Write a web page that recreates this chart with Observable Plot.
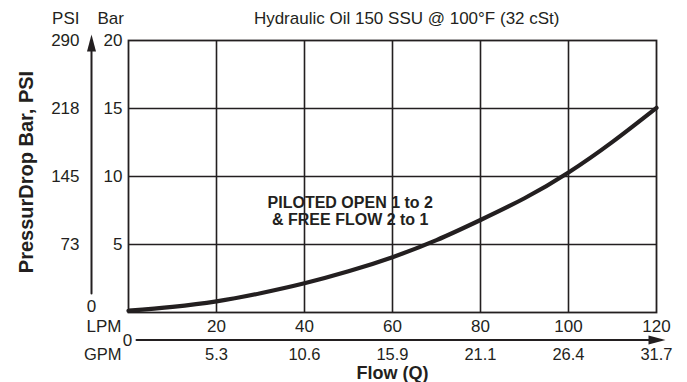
<!DOCTYPE html>
<html>
<head>
<meta charset="utf-8">
<script src="https://cdn.jsdelivr.net/npm/d3@7"></script>
<script src="https://cdn.jsdelivr.net/npm/@observablehq/plot@0.6"></script>
<style>
  html, body { margin: 0; padding: 0; background: #fff; }
  #chart svg { display: block; }
</style>
</head>
<body>
<div id="chart"></div>
<script>
// ---- data ----
const flowLpm = [0, 10, 20, 30, 40, 50, 60, 70, 80, 90, 100, 110, 120];
const dropBar = [0.13, 0.42, 0.82, 1.42, 2.15, 3.03, 4.07, 5.32, 6.8, 8.4, 10.3, 12.55, 15.05];

const lpmTicks = [0, 20, 40, 60, 80, 100, 120];
const gpmLabels = ["0", "5.3", "10.6", "15.9", "21.1", "26.4", "31.7"];
const barTicks = [0, 5, 10, 15, 20];
const psiLabels = ["0", "73", "145", "218", "290"];
const gridX = [20, 40, 60, 80, 100];
const gridY = [5, 10, 15];

const titleText = "Hydraulic Oil 150 SSU @ 100°F (32 cSt)";
const yTitle = "PressurDrop Bar, PSI";
const xTitle = "Flow (Q)";
const noteText = "PILOTED OPEN 1 to 2\n& FREE FLOW 2 to 1";
const noteAt = {lpm: 50.4, bar: 7.46};

// ---- tables built from arrays ----
const curve = flowLpm.map((q, i) => ({q, bar: dropBar[i]}));
const yTable = barTicks.map((b, i) => ({bar: b, psi: psiLabels[i]}));
const xTable = lpmTicks.map((l, i) => ({lpm: l, gpm: gpmLabels[i]}));

const ink = "#231f20";
const arrowUp = {draw(ctx) { ctx.moveTo(0, 0); ctx.lineTo(4.5, 17); ctx.lineTo(-4.5, 17); ctx.closePath(); }};
const arrowRight = {draw(ctx) { ctx.moveTo(0, 0); ctx.lineTo(-17, -4.5); ctx.lineTo(-17, 4.5); ctx.closePath(); }};

const chart = Plot.plot({
  width: 687,
  height: 382,
  marginLeft: 128,
  marginRight: 31,
  marginTop: 40,
  marginBottom: 70,
  x: {domain: [0, 120], axis: null},
  y: {domain: [0, 20], axis: null},
  style: {fontFamily: "'Liberation Sans', Arial, Helvetica, sans-serif", fontSize: "17px", color: ink, background: "#fff"},
  marks: [
    // grid
    Plot.ruleX(gridX, {x: d => d, y1: 0, y2: 20, stroke: ink, strokeWidth: 1.6}),
    Plot.ruleY(gridY, {y: d => d, x1: 0, x2: 120, stroke: ink, strokeWidth: 1.6}),
    Plot.frame({stroke: ink, strokeWidth: 1.8}),
    // curve
    Plot.line(curve, {x: "q", y: "bar", curve: "natural", stroke: ink, strokeWidth: 4.2}),
    // note
    Plot.text([noteText], {x: () => noteAt.lpm, y: () => noteAt.bar, fontWeight: "bold", fontSize: 16, lineHeight: 1.1, fill: ink}),
    // y axes: Bar labels
    Plot.text(yTable.filter(d => d.bar > 0), {x: 0, y: "bar", text: d => String(d.bar), textAnchor: "end", dx: -6, fill: ink}),
    // PSI labels
    Plot.text(yTable.filter(d => d.bar > 0), {x: 0, y: "bar", text: "psi", textAnchor: "end", dx: -49, fill: ink}),
    Plot.text(yTable.filter(d => d.bar === 0), {x: 0, y: "bar", text: "psi", textAnchor: "middle", dx: -37, dy: -6, fill: ink}),
    // headers
    Plot.text(["PSI"], {x: 0, y: 20, textAnchor: "end", dx: -49, dy: -21.5, fill: ink}),
    Plot.text(["Bar"], {x: 0, y: 20, textAnchor: "start", dx: -31, dy: -21.5, fill: ink}),
    // vertical arrow
    Plot.arrow([0], {x1: 0, x2: 0, y1: 0, y2: 20, dx: -37, insetStart: 19, headLength: 0, stroke: ink, strokeWidth: 2}),
    Plot.dot([20], {x: 0, y: d => d, dx: -37, dy: -6, symbol: arrowUp, fill: ink, stroke: "none"}),
    // x axis LPM labels
    Plot.text(xTable.filter(d => d.lpm > 0), {x: "lpm", y: 0, text: d => String(d.lpm), textAnchor: "middle", dy: 14, fill: ink}),
    Plot.text(xTable.filter(d => d.lpm > 0), {x: "lpm", y: 0, text: "gpm", textAnchor: "middle", dy: 42, fontSize: 16.5, fill: ink}),
    Plot.text(xTable.filter(d => d.lpm === 0), {x: "lpm", y: 0, text: "gpm", textAnchor: "middle", dx: -1, dy: 28.5, fill: ink}),
    Plot.text(["LPM"], {x: 0, y: 0, textAnchor: "end", dx: -7, dy: 14, fill: ink}),
    Plot.text(["GPM"], {x: 0, y: 0, textAnchor: "end", dx: -7, dy: 42, fontSize: 16.5, fill: ink}),
    // horizontal arrow
    Plot.arrow([0], {x1: 0, x2: 120, y1: 0, y2: 0, dy: 27.5, insetStart: 8, headLength: 0, stroke: ink, strokeWidth: 2}),
    Plot.dot([120], {x: d => d, y: 0, dx: 9, dy: 27.5, symbol: arrowRight, fill: ink, stroke: "none"}),
    // titles
    Plot.text([titleText], {frameAnchor: "top-right", textAnchor: "end", lineAnchor: "middle", dx: -97, dy: -21.5, fontSize: 17, fill: ink}),
    Plot.text([xTitle], {frameAnchor: "bottom", textAnchor: "middle", lineAnchor: "middle", dy: 60.3, fontWeight: "bold", fontSize: 18, fill: ink}),
    Plot.text([yTitle], {frameAnchor: "left", textAnchor: "middle", lineAnchor: "middle", dx: -102, dy: -4.5, rotate: -90, fontWeight: "bold", fontSize: 20, fill: ink})
  ]
});
document.getElementById("chart").appendChild(chart);
</script>
</body>
</html>
